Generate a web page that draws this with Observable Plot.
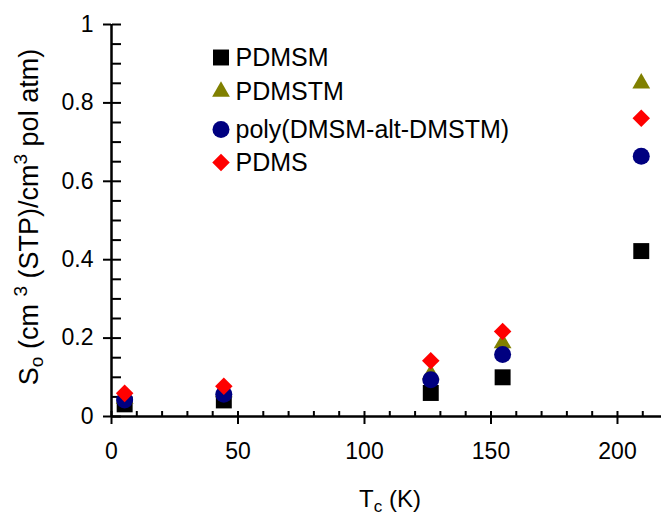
<!DOCTYPE html>
<html><head><meta charset="utf-8">
<script src="https://cdn.jsdelivr.net/npm/d3@7"></script>
<script src="https://cdn.jsdelivr.net/npm/@observablehq/plot@0.6"></script>
<style>
body{margin:0;background:#fff}
#chart svg{font-family:"Liberation Sans",Arial,sans-serif;background:#fff}
</style>
</head><body><div id="chart"></div>
<script>
// Critical temperature of the gas (K)
const temps = [5.2, 44.4, 126.2, 154.6, 209.4];
// Solubility coefficients S0
const pdmsm  = [0.031, 0.041, 0.060, 0.100, 0.422];
const pdmstm = [0.045, 0.062, 0.108, 0.187, 0.850];
const altCo  = [0.042, 0.057, 0.094, 0.158, 0.664];
const pdms   = [0.059, 0.077, 0.142, 0.217, 0.761];

const seriesNames = ["PDMSM", "PDMSTM", "poly(DMSM-alt-DMSTM)", "PDMS"];
const seriesValues = [pdmsm, pdmstm, altCo, pdms];
const seriesSymbols = ["square", "triangle", "circle", "diamond2"];
const seriesColors = ["#000000", "#808000", "#000080", "#ff0000"];
const seriesR = [9, 6.6, 8.5, 7.9];

const xTicks = [0, 50, 100, 150, 200];
const xMinor = [0, 10, 20, 30, 40, 50, 60, 70, 80, 90, 100, 110, 120, 130, 140, 150, 160, 170, 180, 190, 200, 210];
const yTicks = [0, 0.2, 0.4, 0.6, 0.8, 1];
const yMinor = [0, 0.05, 0.1, 0.15, 0.2, 0.25, 0.3, 0.35, 0.4, 0.45, 0.5, 0.55, 0.6, 0.65, 0.7, 0.75, 0.8, 0.85, 0.9, 0.95, 1];

const legendDx = 109.5, legendTextDx = 124;
const legendDy = [33, 67, 105, 138];

const marks = [
  // inside ticks (minor and major)
  Plot.axisY(yMinor, {anchor: "right", frameAnchor: "left", tickSize: 9, tickFormat: () => "", label: null, strokeWidth: 2}),
  Plot.axisX(xMinor, {anchor: "top", frameAnchor: "bottom", tickSize: 6, tickFormat: () => "", label: null, strokeWidth: 2}),
  // outside major ticks with labels
  Plot.axisY(yTicks, {anchor: "left", tickSize: 8, tickPadding: 10, fontSize: 23, tickFormat: d => String(d), label: null, strokeWidth: 2}),
  Plot.axisX(xTicks, {anchor: "bottom", tickSize: 8, tickPadding: 18, fontSize: 23, tickFormat: d => String(d), label: null, strokeWidth: 2}),
  // axis lines
  Plot.ruleX([0], {strokeWidth: 2.5}),
  Plot.ruleY([0], {strokeWidth: 2.5})
];

seriesNames.forEach((name, j) => {
  const rows = temps.map((t, i) => ({tc: t, so: seriesValues[j][i]}));
  marks.push(Plot.dot(rows, {x: "tc", y: "so", symbol: () => seriesSymbols[j], fill: seriesColors[j], r: seriesR[j]}));
  marks.push(Plot.dot([name], {frameAnchor: "top-left", dx: legendDx, dy: legendDy[j], symbol: () => seriesSymbols[j], fill: seriesColors[j], r: seriesR[j]}));
  marks.push(Plot.text([name], {frameAnchor: "top-left", dx: legendTextDx, dy: legendDy[j], text: d => d, textAnchor: "start", lineAnchor: "middle", fontSize: 25, fill: "#000"}));
});

const chart = Plot.plot({
  width: 661,
  height: 516,
  marginLeft: 111,
  marginRight: 0,
  marginTop: 24,
  marginBottom: 100,
  x: {domain: [0, 217.4]},
  y: {domain: [0, 1]},
  symbol: {type: "identity"},
  marks
});
document.getElementById("chart").appendChild(chart);

const svg = d3.select(chart);
// Y axis label
const yl = svg.append("text")
  .attr("transform", "translate(38,217) rotate(-90)")
  .attr("text-anchor", "middle")
  .attr("font-size", 27)
  .attr("fill", "#000");
yl.append("tspan").text("S");
yl.append("tspan").attr("font-size", 19).attr("dy", 5).text("o");
yl.append("tspan").attr("dy", -5).text(" (cm ");
yl.append("tspan").attr("font-size", 19).attr("dy", -11).text("3");
yl.append("tspan").attr("dy", 11).text(" (STP)/cm");
yl.append("tspan").attr("font-size", 19).attr("dy", -11).text("3");
yl.append("tspan").attr("dy", 11).text(" pol atm)");

// X axis label
const xl = svg.append("text")
  .attr("x", 390).attr("y", 507)
  .attr("text-anchor", "middle")
  .attr("font-size", 24)
  .attr("fill", "#000");
xl.append("tspan").text("T");
xl.append("tspan").attr("font-size", 17).attr("dy", 5).text("c");
xl.append("tspan").attr("dy", -5).text(" (K)");
</script>
</body></html>
